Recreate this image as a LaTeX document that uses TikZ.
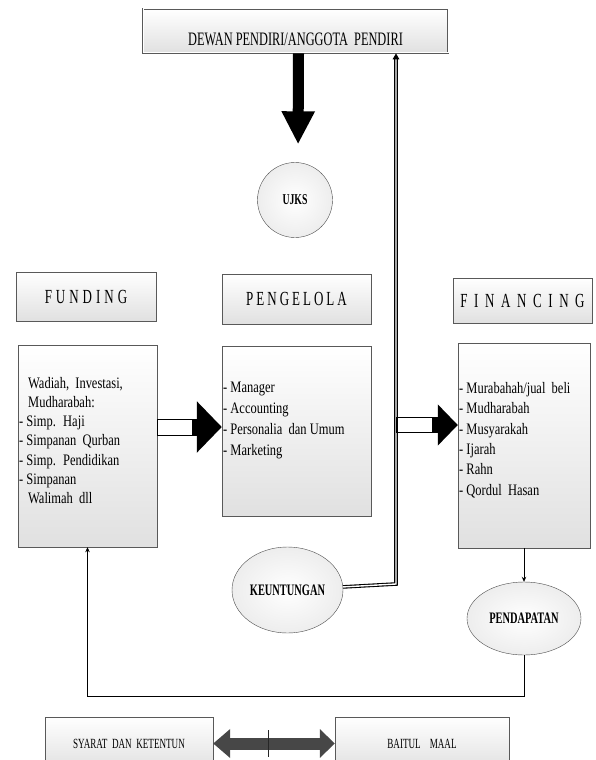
\documentclass[tikz,border=0pt]{standalone}
\usepackage{fontspec}
\setmainfont{Liberation Serif}[FakeStretch=0.78]
\newfontfamily\condfont{Liberation Serif}[FakeStretch=0.65]
\usetikzlibrary{arrows.meta,shapes.geometric,shadows}
\tikzset{
  box/.style={draw=black!65, top color=white, bottom color=black!12, inner sep=0pt,
    drop shadow={shadow xshift=1pt, shadow yshift=-1pt, opacity=0.35}},
  titlebox/.style={box, font=\condfont\fontsize{20}{24}\selectfont},
  listtext/.style={align=left, inner sep=0pt, anchor=north west},
  oval/.style={ellipse, draw=black!70, inner sep=0pt, inner color=white, outer color=black!7,
    font=\condfont\bfseries\fontsize{16}{18}\selectfont},
  thinarrow/.style={line width=0.8pt, -{Stealth[length=5pt,width=4.5pt]}},
  dbl/.style={line width=3.6pt, -{Triangle[length=6pt,width=6.5pt]},
    postaction={draw=white, line width=1.4pt, -, shorten >=6pt}},
  tick/.style={fill=black!85, inner sep=0pt, minimum width=0.7pt, minimum height=27pt}
}
\begin{document}
\begin{tikzpicture}[x=1pt, y=-1pt]
\useasboundingbox (0,0) rectangle (595,760);
\clip (0,0) rectangle (595,760);

\node[box, double=white, double distance=1pt, line width=0.7pt, minimum width=305pt,
  text height=35pt, text depth=5pt, inner ysep=2pt, font=\condfont\fontsize{19}{22}\selectfont]
  (dewan) at (295.5,31) {DEWAN PENDIRI/ANGGOTA~ PENDIRI};
\node[oval, circle, minimum size=75pt, font=\condfont\bfseries\fontsize{15}{18}\selectfont]
  (ujks) at (295,200) {UJKS};

\node[titlebox, minimum width=140pt, minimum height=49pt] (funding) at (86,296.5)
  {\addfontfeature{LetterSpace=20}FUNDING};
\node[titlebox, minimum width=149pt, minimum height=50pt] (pengelola) at (296.5,299)
  {\addfontfeature{LetterSpace=15}PENGELOLA};
\node[titlebox, minimum width=139pt, minimum height=45pt] (financing) at (522.5,300.5)
  {\addfontfeature{LetterSpace=33}FINANCING};

\node[box, minimum width=139pt, minimum height=202pt] (funding-list) at (87.5,446) {};
\node[box, minimum width=149pt, minimum height=170pt] (pengelola-list) at (296.5,431) {};
\node[box, minimum width=132pt, minimum height=205pt] (financing-list) at (524,445.5) {};

\node[listtext, font=\fontsize{16}{19.2}\selectfont] (funding-text) at (19,377)
  {\hspace*{9pt}Wadiah,~ Investasi,\\ \hspace*{9pt}Mudharabah:\\ - Simp.~ Haji\\
   - Simpanan~ Qurban\\ - Simp.~ Pendidikan\\ - Simpanan\\ \hspace*{9pt}Walimah~ dll};
\node[listtext, font=\fontsize{16}{20.8}\selectfont] (pengelola-text) at (223,382)
  {- Manager\\ - Accounting\\ - Personalia~ dan Umum\\ - Marketing};
\node[listtext, font=\fontsize{16}{20.4}\selectfont] (financing-text) at (459,382)
  {- Murabahah/jual~ beli\\ - Mudharabah\\ - Musyarakah\\ - Ijarah\\ - Rahn\\ - Qordul~ Hasan};

\node[oval, minimum width=111pt, minimum height=86pt] (keuntungan) at (287.5,590) {KEUNTUNGAN};
\node[oval, minimum width=114pt, minimum height=73pt] (pendapatan) at (524,618.5) {PENDAPATAN};

\node[box, minimum width=168pt, minimum height=53pt, font=\condfont\fontsize{14}{16}\selectfont]
  (syarat) at (129,743.5) {SYARAT~ DAN~ KETENTUN};
\node[box, minimum width=174pt, minimum height=53pt, font=\condfont\fontsize{14}{16}\selectfont]
  (baitul) at (422,743.5) {BAITUL~ ~ MAAL};

\coordinate (up) at (396,584);
\coordinate (mid) at (396,425);

\draw[line width=11pt, -{Triangle[length=33pt,width=31pt]}, shorten >=18pt]
  ([xshift=3pt]dewan.south) -- ([xshift=3pt]ujks.north);
\draw[dbl] (keuntungan) -- (up) -- (up |- dewan.south);
\draw[line width=17pt, -{Triangle[length=25pt,width=50pt]},
  postaction={draw=white, line width=15pt, -, shorten >=30pt, shorten <=0.8pt}]
  ([yshift=19pt]funding-list.east) -- ([yshift=4pt]pengelola-list.west);
\draw[line width=16pt, -{Triangle[length=20pt,width=40pt]},
  postaction={draw=white, line width=14pt, -, shorten >=26pt, shorten <=2pt}]
  (mid) -- ([yshift=20.5pt]financing-list.west);
\draw[thinarrow] (financing-list.south) -- (pendapatan.north);
\draw[thinarrow] (pendapatan.south) -- ++(0,41) -| (funding-list.south);
\draw[line width=12pt, draw=black!72, {Triangle[length=17pt,width=28pt]}-{Triangle[length=15pt,width=28pt]}]
  (syarat) -- (baitul) node[tick, pos=0.45] (mark) {};
\end{tikzpicture}
\end{document}
